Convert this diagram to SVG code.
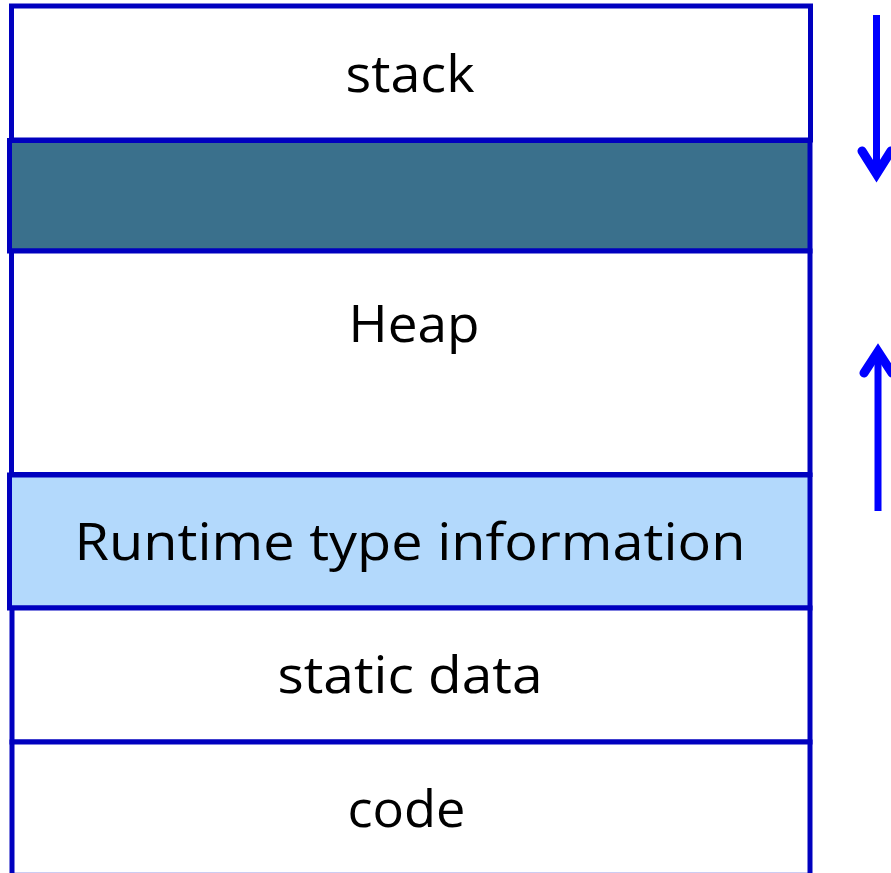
<svg xmlns="http://www.w3.org/2000/svg" width="891" height="873" viewBox="0 0 891 873">
  <style>
    .seg { stroke: #0000BF; stroke-width: 5; }
    .plain { fill: #FFFFFF; }
    .gap { fill: #3A708C; }
    .rtti { fill: #B3D9FC; }
    .label { font-family: "Open Sans", "Liberation Sans", sans-serif; font-size: 52px; fill: #000000; text-anchor: middle; }
    .shaft { fill: none; stroke: #0000FF; stroke-width: 7; stroke-linecap: butt; }
    .head { fill: none; stroke: #0000FF; stroke-width: 9; stroke-linecap: round; stroke-linejoin: miter; stroke-miterlimit: 10; }
  </style>
  <rect width="891" height="873" fill="#FFFFFF"/>

  <!-- memory layout, top to bottom -->
  <g id="stack">
    <rect class="seg plain" x="11.5" y="6" width="799" height="134"/>
    <text class="label" x="410" y="92" textLength="129" lengthAdjust="spacingAndGlyphs">stack</text>
  </g>
  <g id="free-space">
    <rect class="seg gap" x="9.5" y="140.5" width="800.5" height="110.5"/>
  </g>
  <g id="heap">
    <rect class="seg plain" x="11.5" y="251" width="798.5" height="223.5"/>
    <text class="label" x="414" y="342" textLength="131" lengthAdjust="spacingAndGlyphs">Heap</text>
  </g>
  <g id="runtime-type-information">
    <rect class="seg rtti" x="9.5" y="475" width="800.5" height="133"/>
    <text class="label" x="410" y="560" textLength="671" lengthAdjust="spacingAndGlyphs">Runtime type information</text>
  </g>
  <g id="static-data">
    <rect class="seg plain" x="12" y="608" width="798" height="134"/>
    <text class="label" x="410" y="693" textLength="265" lengthAdjust="spacingAndGlyphs">static data</text>
  </g>
  <g id="code">
    <rect class="seg plain" x="12" y="742" width="798" height="133.3"/>
    <text class="label" x="406.5" y="827" textLength="118" lengthAdjust="spacingAndGlyphs">code</text>
  </g>

  <!-- growth directions: stack grows down, heap grows up -->
  <g id="connectors">
    <g id="stack-growth">
      <line class="shaft" x1="876.5" y1="15" x2="876.5" y2="172"/>
      <polyline class="head" points="862,151 876.5,174 891,151"/>
    </g>
    <g id="heap-growth">
      <line class="shaft" x1="878" y1="511" x2="878" y2="354"/>
      <polyline class="head" points="864,373 878,351.5 892,373"/>
    </g>
  </g>
</svg>
